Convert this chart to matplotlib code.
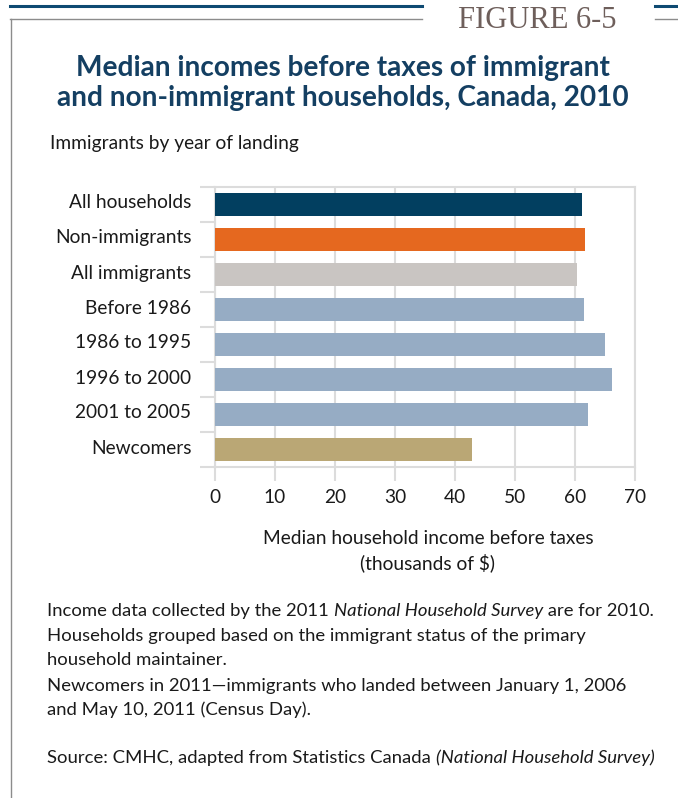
import matplotlib
matplotlib.use("Agg")
import matplotlib.pyplot as plt
from matplotlib.lines import Line2D
from matplotlib.transforms import ScaledTranslation
import numpy as np

plt.rcParams['font.family'] = ['Lato', 'DejaVu Sans']

categories = ["All households", "Non-immigrants", "All immigrants", "Before 1986",
              "1986 to 1995", "1996 to 2000", "2001 to 2005", "Newcomers"]
incomes = [61.1, 61.7, 60.3, 61.5, 65.0, 66.2, 62.2, 42.8]
bar_colors = ["#023f60", "#e5681f", "#c9c5c2", "#96acc4", "#96acc4", "#96acc4", "#96acc4", "#baa775"]
xticks = [0, 10, 20, 30, 40, 50, 60, 70]

W, H = 678, 798
fig = plt.figure(figsize=(W / 100, H / 100), dpi=100)


def fx(px):
    return px / W


def fy(py):
    return 1 - py / H


# Page frame: double rule at top and a thin rule down the left side
grey_rule = "#8c8c8c"
navy_rule = "#0e4a72"
fig.add_artist(Line2D([fx(10), fx(422)], [fy(6), fy(6)], color=navy_rule, lw=2.2))
fig.add_artist(Line2D([fx(10), fx(422)], [fy(19), fy(19)], color=grey_rule, lw=1.0))
fig.add_artist(Line2D([fx(655), fx(678)], [fy(6), fy(6)], color=navy_rule, lw=2.2))
fig.add_artist(Line2D([fx(655), fx(678)], [fy(19), fy(19)], color=grey_rule, lw=1.0))
fig.add_artist(Line2D([fx(10.5), fx(10.5)], [fy(19), fy(798)], color=grey_rule, lw=1.0))

fig.text(fx(537), fy(21), "FIGURE 6-5", ha="center", va="center",
         family=["Liberation Serif", "DejaVu Serif"], fontsize=22, color="#6e5f5b")

title_style = dict(ha="center", va="center", fontsize=20.2, fontweight="bold", color="#143f62")
fig.text(fx(343), fy(68), "Median incomes before taxes of immigrant", **title_style)
fig.text(fx(343), fy(98), "and non-immigrant households, Canada, 2010", **title_style)

label_size = 13.8
text_color = "#1a1a1a"
fig.text(fx(50), fy(143), "Immigrants by year of landing", ha="left", va="center",
         fontsize=label_size, color=text_color)

# Bar chart
ax = fig.add_axes([fx(215), fy(467), fx(635) - fx(215), fy(187) - fy(467)])
y = np.arange(len(categories))
ax.barh(y, incomes, height=0.65, color=bar_colors, zorder=3)
ax.set_ylim(len(categories) - 0.5, -0.5)
ax.set_xlim(0, 70)

grid_c = "#dcdcdc"
ax.set_xticks(xticks)
ax.set_xticklabels([str(v) for v in xticks])
ax.xaxis.grid(True, color=grid_c, lw=1.5, zorder=0)
ax.set_axisbelow(True)
ax.tick_params(axis="x", length=10, width=1.5, color=grid_c, pad=6, labelsize=label_size,
               labelcolor=text_color)

ax.set_yticks(y)
ax.set_yticklabels(categories)
ax.tick_params(axis="y", which="major", length=0, pad=17, labelsize=label_size,
               labelcolor=text_color)
ax.set_yticks(np.arange(-0.5, len(categories)), minor=True)
ax.tick_params(axis="y", which="minor", length=11, width=1.5, color=grid_c)
# category names sit slightly above the bar centres
lift = ScaledTranslation(0, 0.03, fig.dpi_scale_trans)
for lbl in ax.get_yticklabels():
    lbl.set_transform(lbl.get_transform() + lift)

for s in ax.spines.values():
    s.set_color(grid_c)
    s.set_linewidth(1.5)

fig.text(fx(428), fy(538), "Median household income before taxes", ha="center", va="center",
         fontsize=label_size, color=text_color)
fig.text(fx(428), fy(563), "(thousands of $)", ha="center", va="center",
         fontsize=label_size, color=text_color)

# Notes below the chart, with italic survey names
note_size = 13.3
line_ys = [611, 636, 660, 686, 710]
note_lines = [
    [("Income data collected by the 2011 ", "normal"), ("National Household Survey", "italic"),
     (" are for 2010.", "normal")],
    [("Households grouped based on the immigrant status of the primary", "normal")],
    [("household maintainer.", "normal")],
    [("Newcomers in 2011\u2014immigrants who landed between January 1, 2006", "normal")],
    [("and May 10, 2011 (Census Day).", "normal")],
]
source_line = [("Source: CMHC, adapted from Statistics Canada ", "normal"),
               ("(National Household Survey)", "italic")]

renderer = fig.canvas.get_renderer()


def draw_segments(segments, x0, ypix):
    x = x0
    for txt, style in segments:
        t = fig.text(fx(x), fy(ypix), txt, ha="left", va="center", fontsize=note_size,
                     style=style, color=text_color)
        x += t.get_window_extent(renderer).width


for segs, yp in zip(note_lines, line_ys):
    draw_segments(segs, 47, yp)
draw_segments(source_line, 47, 758)

fig.savefig("out.png", dpi=100)
